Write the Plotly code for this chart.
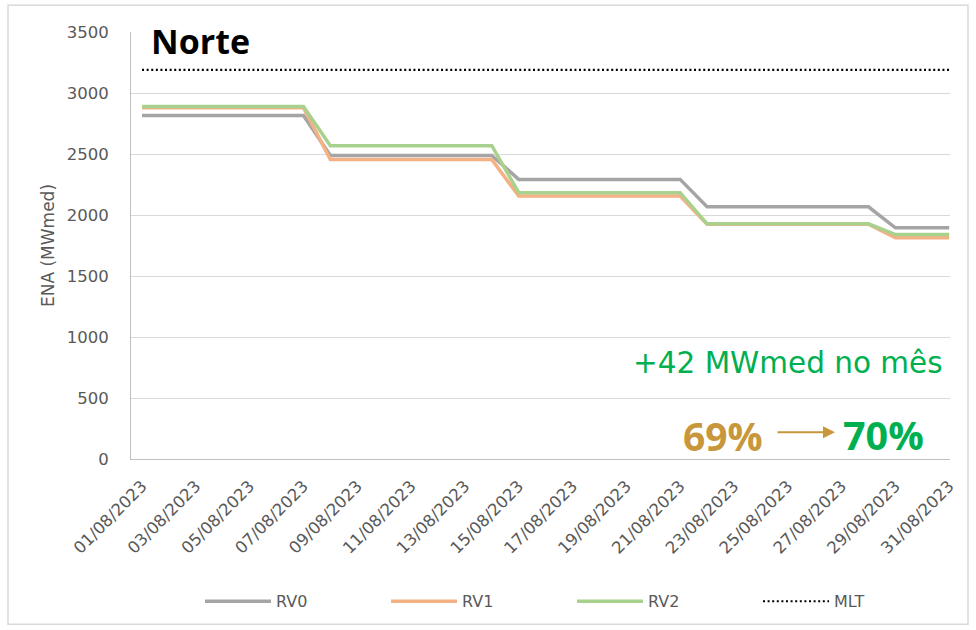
import plotly.graph_objects as go

dates = [f"{d:02d}/08/2023" for d in range(1, 32)]
rv0_levels = [2815, 2488, 2292, 2067, 1895]
rv1_levels = [2880, 2455, 2155, 1925, 1813]
rv2_levels = [2890, 2568, 2183, 1928, 1840]
mlt_value = 3190
week_lengths = [7, 7, 7, 7, 3]

def expand(levels):
    out = []
    for v, n in zip(levels, week_lengths):
        out += [v] * n
    return out

rv0 = expand(rv0_levels)
rv1 = expand(rv1_levels)
rv2 = expand(rv2_levels)
mlt = [mlt_value] * len(dates)

FONT = "DejaVu Sans"
BOLD = "Open Sans"
GRAY_TXT = "#595959"
GOLD = "#C9973B"
GREEN = "#00B050"

fig = go.Figure()
fig.add_trace(go.Scatter(x=dates, y=rv0, name="RV0", mode="lines",
                         line=dict(color="#A5A5A5", width=3.5)))
fig.add_trace(go.Scatter(x=dates, y=rv1, name="RV1", mode="lines",
                         line=dict(color="#F4B183", width=3.5)))
fig.add_trace(go.Scatter(x=dates, y=rv2, name="RV2", mode="lines",
                         line=dict(color="#A9D18E", width=3.5)))
fig.add_trace(go.Scatter(x=dates, y=mlt, name="MLT", mode="lines",
                         line=dict(color="#000000", width=2.2, dash="2px,2.6px")))

W, H = 976, 630
L, R, T, B = 131, 26, 32, 169
pw, ph = W - L - R, H - T - B

def px(x):
    return (x - L) / pw

def py(y):
    return (H - B - y) / ph

fig.update_layout(
    width=W, height=H,
    margin=dict(l=L, r=R, t=T, b=B),
    paper_bgcolor="white", plot_bgcolor="white",
    font=dict(family=FONT, color=GRAY_TXT, size=14),
    showlegend=True,
    legend=dict(orientation="h", x=px(200), y=py(604), xanchor="left", yanchor="middle",
                entrywidth=105, entrywidthmode="pixels", itemwidth=66,
                font=dict(size=16, color=GRAY_TXT, family=FONT), bgcolor="rgba(0,0,0,0)"),
    xaxis=dict(type="category", range=[-0.41, 30.03], tickvals=dates[::2],
               tickangle=-45, tickfont=dict(size=16.5, color=GRAY_TXT, family=FONT),
               showgrid=False, showline=True, linecolor="#BFBFBF", linewidth=1,
               ticks="", ticklabelstandoff=10, zeroline=False),
    yaxis=dict(range=[0, 3500], dtick=500, tickfont=dict(size=16.5, color=GRAY_TXT, family=FONT),
               showgrid=True, gridcolor="#D9D9D9", gridwidth=1,
               showline=True, linecolor="#BFBFBF", linewidth=1,
               ticks="", ticklabelstandoff=18, zeroline=False,
               title=dict(text="ENA (MWmed)", font=dict(size=17, color=GRAY_TXT, family=FONT),
                          standoff=7)),
)

fig.add_shape(type="rect", xref="paper", yref="paper",
              x0=px(8), x1=px(968), y0=py(627), y1=py(5),
              line=dict(color="#D9D9D9", width=1.5), layer="below")

fig.add_annotation(text="<b>Norte</b>", xref="paper", yref="paper", x=px(149), y=py(41),
                   xanchor="left", yanchor="middle", showarrow=False,
                   font=dict(size=34, color="black", family=BOLD))
fig.add_annotation(text="+42 MWmed no mês", xref="paper", yref="paper", x=px(945), y=py(365),
                   xanchor="right", yanchor="middle", showarrow=False,
                   font=dict(size=29.5, color=GREEN, family=FONT))
fig.add_annotation(text="<b>69%</b>", xref="paper", yref="paper", x=px(681), y=py(437),
                   xanchor="left", yanchor="middle", showarrow=False,
                   font=dict(size=39, color=GOLD, family=BOLD))
fig.add_annotation(text="<b>70%</b>", xref="paper", yref="paper", x=px(841), y=py(437),
                   xanchor="left", yanchor="middle", showarrow=False,
                   font=dict(size=39.5, color=GREEN, family=BOLD))
fig.add_annotation(text="", xref="paper", yref="paper", x=px(835), y=py(434),
                   ax=-59, ay=0, axref="pixel", ayref="pixel",
                   showarrow=True, arrowhead=2, arrowsize=1.2, arrowwidth=2,
                   arrowcolor=GOLD)

fig.write_html("out.html", config={"displayModeBar": False},
               post_script="document.body.style.margin='0';")
